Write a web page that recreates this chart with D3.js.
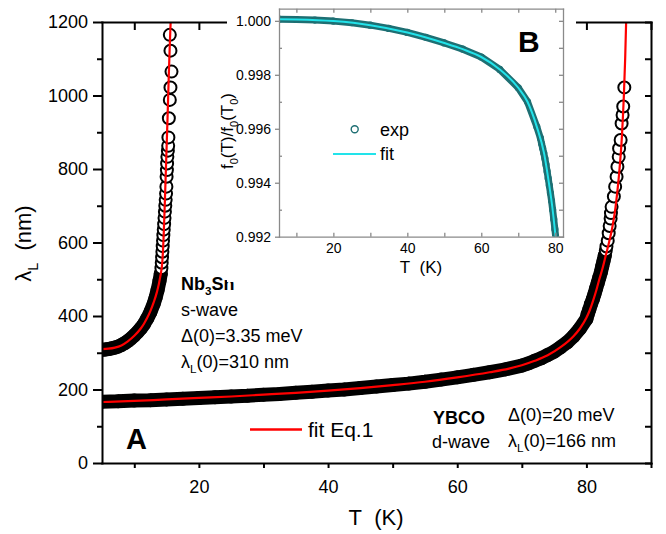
<!DOCTYPE html>
<html><head><meta charset="utf-8">
<script src="https://cdn.jsdelivr.net/npm/d3@7"></script>
<style>
body{margin:0;background:#fff}
svg{display:block}
text{font-family:"Liberation Sans",Arial,Helvetica,sans-serif}
</style>
</head><body>
<svg id="c" width="666" height="534"></svg>
<script>
// ---------------- DATA ----------------
// YBCO experimental lambda_L (nm) vs T (K)
const ybcoT = [5,7.5,10,12.5,15,17.5,20,22.5,25,27.5,30,32.5,35,37.5,40,42.5,45,47.5,50,52.5,55,57.5,60,62.5,65,67.5,70,71,72,73,74,75,76,77,78,79,80,
  80.2,80.45,80.7,81.0,81.25,81.5,81.75,82.0,82.25,82.45,82.65,82.85,83.0,83.1,83.3,83.45,83.6,83.75,83.8,83.9,84.25,84.45,84.67,84.8,85.0,85.06,85.3,85.45,85.6,85.7,85.87];
const ybcoL = [167,168,170,171,173,175,177,179,181,183,186,188,191,194,197,200,204,208,212,216,221,227,233,240,247,255,265,271,278,285,294,303,315,328,345,366,392,
  405,418,432,446,460,475,490,505,520,535,550,565,578,589,605,625,645,665,680,697,725,752,779,806,833,856,879,924,947,970,1022];
// YBCO fit (Eq.1)
const ybcoFitT = [5,10,15,20,25,30,35,40,45,50,55,60,65,68,70,72,74,76,78,79,80,80.5,81,81.5,82,82.5,83,83.5,84,84.5,85,85.5,85.8,86.0,86.15];
const ybcoFitL = [166,169,173,177,181,186,191,197,204,212,221,233,247,257,266,278,293,315,345,366,395,415,440,468,500,530,565,600,640,695,775,890,1000,1100,1200];
// Nb3Sn experimental
const nbT = [5,5.5,6,6.5,7,7.5,8,8.5,9,9.5,10,10.5,11,11.5,12,12.5,13,13.3,13.6,13.9,14.1,
  14.2,14.25,14.3,14.35,14.4,14.45,14.5,14.56,14.62,14.68,14.74,14.8,14.86,14.92,14.97,15.0,15.05,15.08,15.12,15.2,15.25,15.28,15.35,15.5,15.6,15.76,15.6,15.5];
const nbL = [308,309,310,312,314,317,321,326,332,339,347,356,366,378,393,411,433,450,470,495,515,
  530,545,560,575,590,605,620,635,650,667,684,700,716,733,752,779,797,815,833,850,863,886,938,988,1022,1065,1122,1165];
// Nb3Sn fit
const nbFitT = [5,6,7,8,9,10,11,11.5,12,12.5,13,13.5,14,14.35,14.55,14.75,14.95,15.15,15.35,15.5,15.63];
const nbFitL = [310,311,314,320,331,346,366,379,395,414,437,465,505,550,620,720,830,940,1060,1140,1200];
// Inset B: f0(T)/f0(T0)
const insT = [5.3,10,15,20,25,30,35,40,45,50,55,60,65,70,72.5,75,76,
  76.3,76.6,76.9,77.2,77.5,77.8,78.1,78.4,78.7,79.0,79.3,79.6,79.9,80.2];
const insF = [1.00006,1.00005,1.00003,0.99999,0.99993,0.99984,0.99972,0.99957,0.99939,0.99918,0.99895,0.99866,0.99820,0.99752,0.99700,0.99608,0.99565,
  0.99545,0.99528,0.99510,0.99490,0.99467,0.99442,0.99416,0.99390,0.99362,0.99333,0.99300,0.99265,0.99228,0.99190];
const insFitT = [5.3,10,20,30,40,50,55,60,65,70,72.5,75,77,78.3,79.2,80,80.4];
const insFitF = [1.00006,1.00005,0.99999,0.99984,0.99957,0.99918,0.99895,0.99866,0.99820,0.99752,0.99700,0.99608,0.99508,0.99398,0.99311,0.99212,0.99160];
// Tick labels
const xMajor = [20,40,60,80];
const xTicks = [10,20,30,40,50,60,70,80,90];
const yMajor = [0,200,400,600,800,1000,1200];
const yMinor = [100,300,500,700,900,1100];
const yAll = [0,100,200,300,400,500,600,700,800,900,1000,1100,1200];
const insXMajor = [20,40,60,80];
const insXTicks = [10,20,30,40,50,60,70,80];
const insYMajor = [0.992,0.994,0.996,0.998,1.000];
const insYMinor = [0.993,0.995,0.997,0.999];

// ---------------- DRAWING ----------------
const svg = d3.select('#c');
const FONT = '"Liberation Sans",Arial,sans-serif';
const x = d3.scaleLinear().domain([5,90]).range([102,651]);
const y = d3.scaleLinear().domain([0,1200]).range([463,22]);

function rich(parent, segs, fs, opts){
  opts = opts||{};
  const t = parent.append('text').attr('x',opts.x||0).attr('y',opts.y||0).attr('font-size',fs).attr('fill',opts.fill||'#000');
  if(opts.anchor) t.attr('text-anchor',opts.anchor);
  if(opts.weight) t.attr('font-weight',opts.weight);
  if(opts.transform) t.attr('transform',opts.transform);
  let inSub=false; const sh=fs*0.3;
  segs.forEach(([s,isSub])=>{
    const ts=t.append('tspan').text(s);
    if(isSub){ ts.attr('font-size',fs*0.65); if(!inSub){ts.attr('dy',sh); inSub=true;} }
    else if(inSub){ ts.attr('dy',-sh); inSub=false; }
  });
  return t;
}
function styleAx(g,col,w){
  g.selectAll('path.domain').attr('stroke',col).attr('stroke-width',w).attr('stroke-linecap','square');
  g.selectAll('.tick line').attr('stroke',col).attr('stroke-width',w);
  g.selectAll('text').attr('fill','#000').attr('font-family',FONT);
}

// clip for main plot
const defs = svg.append('defs');
defs.append('clipPath').attr('id','mainClip').append('rect').attr('x',102).attr('y',22).attr('width',549).attr('height',441);

// main data
const dataG = svg.append('g').attr('clip-path','url(#mainClip)');
function drawSeries(T,L,bandMax){
  const pts = T.map((t,i)=>({t,l:L[i]}));
  const band = pts.filter(p=>p.l<=bandMax);
  dataG.append('path').datum(band)
    .attr('d',d3.line().x(p=>x(p.t)).y(p=>y(p.l)))
    .attr('fill','none').attr('stroke','#000').attr('stroke-width',14)
    .attr('stroke-linecap','round').attr('stroke-linejoin','round');
  dataG.append('g').selectAll('circle').data(pts).join('circle')
    .attr('cx',p=>x(p.t)).attr('cy',p=>y(p.l)).attr('r',6)
    .attr('fill',p=>p.l<=bandMax?'none':'#fff').attr('stroke','#000').attr('stroke-width',2);
}
drawSeries(ybcoT,ybcoL,570);
drawSeries(nbT,nbL,520);
const fitLine = d3.line().x(p=>x(p[0])).y(p=>y(p[1])).curve(d3.curveMonotoneX);
dataG.append('path').datum(ybcoFitT.map((t,i)=>[t,ybcoFitL[i]])).attr('d',fitLine)
  .attr('fill','none').attr('stroke','#ff0000').attr('stroke-width',2.2);
dataG.append('path').datum(nbFitT.map((t,i)=>[t,nbFitL[i]])).attr('d',fitLine)
  .attr('fill','none').attr('stroke','#ff0000').attr('stroke-width',2.2);

// main axes
const gb = svg.append('g').attr('transform','translate(0,463)')
  .call(d3.axisBottom(x).tickValues(xTicks).tickSize(5).tickSizeOuter(0).tickFormat(d=>xMajor.includes(d)?d:''));
gb.selectAll('text').attr('font-size',18).attr('y',17);
styleAx(gb,'#000',2);
const gl = svg.append('g').attr('transform','translate(102,0)')
  .call(d3.axisLeft(y).tickValues(yMajor).tickSize(9).tickPadding(5).tickSizeOuter(0).tickFormat(d3.format('d')));
gl.selectAll('text').attr('font-size',18);
styleAx(gl,'#000',2);
const glm = svg.append('g').attr('transform','translate(102,0)')
  .call(d3.axisLeft(y).tickValues(yMinor).tickSize(5).tickFormat(''));
glm.select('path.domain').remove(); styleAx(glm,'#000',2);
const gr = svg.append('g').attr('transform','translate(651,0)')
  .call(d3.axisRight(y).tickValues(yAll).tickSize(-6).tickSizeOuter(0).tickFormat(''));
styleAx(gr,'#000',2);
const gt = svg.append('g').attr('transform','translate(0,22)')
  .call(d3.axisTop(x).tickValues(xTicks).tickSize(-8).tickSizeOuter(0).tickFormat(''));
styleAx(gt,'#000',2);

// axis titles
svg.append('text').attr('x',376).attr('y',525).attr('text-anchor','middle').attr('font-size',22).text('T\u00a0\u00a0(K)');
rich(svg,[['λ',false],['L',true],['\u00a0\u00a0(nm)',false]],22,{anchor:'middle',transform:'translate(31,243.5) rotate(-90)'});

// annotations
svg.append('text').attr('x',126).attr('y',449).attr('font-size',29).attr('font-weight','bold').text('A');
rich(svg,[['Nb',false],['3',true],['Sn',false]],18,{x:181,y:290,weight:'bold'});
svg.append('text').attr('x',181).attr('y',316).attr('font-size',18).text('s-wave');
svg.append('text').attr('x',181).attr('y',342).attr('font-size',18).text('Δ(0)=3.35 meV');
rich(svg,[['λ',false],['L',true],['(0)=310 nm',false]],18,{x:181,y:368});
svg.append('text').attr('x',433).attr('y',424).attr('font-size',18).attr('font-weight','bold').text('YBCO');
svg.append('text').attr('x',432).attr('y',448).attr('font-size',18).text('d-wave');
svg.append('text').attr('x',508).attr('y',421).attr('font-size',18).text('Δ(0)=20 meV');
rich(svg,[['λ',false],['L',true],['(0)=166 nm',false]],18,{x:508,y:447});
// legend
svg.append('line').attr('x1',250).attr('x2',302).attr('y1',429.5).attr('y2',429.5).attr('stroke','#ff0000').attr('stroke-width',2.5);
svg.append('text').attr('x',308).attr('y',437).attr('font-size',21).text('fit Eq.1');

// ---------------- INSET ----------------
svg.append('rect').attr('x',227).attr('y',0).attr('width',349).attr('height',282).attr('fill','#fff');
const xi = d3.scaleLinear().domain([5.3,82.1]).range([279,563]);
const yi = d3.scaleLinear().domain([0.992,1.00045]).range([236.7,8.7]);
const TEAL = '#1e6f73', CYAN = '#22e3ea', GRAY='#8a8a8a';
defs.append('clipPath').attr('id','insClip').append('rect').attr('x',279).attr('y',8.7).attr('width',284).attr('height',228);
const ig = svg.append('g').attr('clip-path','url(#insClip)');
const ipts = insT.map((t,i)=>({t,f:insF[i]}));
ig.append('path').datum(ipts)
  .attr('d',d3.line().x(p=>xi(p.t)).y(p=>yi(p.f)))
  .attr('fill','none').attr('stroke',TEAL).attr('stroke-width',7).attr('stroke-linecap','round').attr('stroke-linejoin','round');
ig.append('g').selectAll('circle').data(ipts).join('circle')
  .attr('cx',p=>xi(p.t)).attr('cy',p=>yi(p.f)).attr('r',3)
  .attr('fill','none').attr('stroke',TEAL).attr('stroke-width',1.2);
ig.append('path').datum(insFitT.map((t,i)=>[t,insFitF[i]]))
  .attr('d',d3.line().x(p=>xi(p[0])).y(p=>yi(p[1])).curve(d3.curveMonotoneX))
  .attr('fill','none').attr('stroke',CYAN).attr('stroke-width',2);

// inset axes
const ib = svg.append('g').attr('transform','translate(0,236.7)')
  .call(d3.axisBottom(xi).tickValues(insXTicks).tickSize(-4).tickSizeOuter(0).tickFormat(d=>insXMajor.includes(d)?d:''));
ib.selectAll('text').attr('font-size',14).attr('y',6);
styleAx(ib,GRAY,1.3);
const il = svg.append('g').attr('transform','translate(279,0)')
  .call(d3.axisLeft(yi).tickValues(insYMajor).tickSize(4).tickPadding(4).tickSizeOuter(0).tickFormat(d3.format('.3f')));
il.selectAll('text').attr('font-size',14);
styleAx(il,GRAY,1.3);
const ilm = svg.append('g').attr('transform','translate(279,0)')
  .call(d3.axisLeft(yi).tickValues(insYMinor).tickSize(-3).tickFormat(''));
ilm.select('path.domain').remove(); styleAx(ilm,GRAY,1.3);
const ir = svg.append('g').attr('transform','translate(563,0)')
  .call(d3.axisRight(yi).tickValues(insYMajor.concat(insYMinor)).tickSize(-4).tickSizeOuter(0).tickFormat(''));
styleAx(ir,GRAY,1.3);
const it = svg.append('g').attr('transform','translate(0,8.7)')
  .call(d3.axisTop(xi).tickValues(insXTicks).tickSize(-4).tickSizeOuter(0).tickFormat(''));
styleAx(it,GRAY,1.3);

svg.append('text').attr('x',421).attr('y',273).attr('text-anchor','middle').attr('font-size',17).text('T\u00a0\u00a0(K)');
rich(svg,[['f',false],['0',true],['(T)/f',false],['0',true],['(T',false],['0',true],[')',false]],17,{anchor:'middle',transform:'translate(233,131) rotate(-90)'});
svg.append('text').attr('x',518).attr('y',51.5).attr('font-size',30).attr('font-weight','bold').text('B');
// inset legend
svg.append('circle').attr('cx',354.7).attr('cy',129.3).attr('r',3.5).attr('fill','#fff').attr('stroke',TEAL).attr('stroke-width',1.4);
svg.append('text').attr('x',380).attr('y',136).attr('font-size',18).text('exp');
svg.append('line').attr('x1',333).attr('x2',376).attr('y1',154).attr('y2',154).attr('stroke',CYAN).attr('stroke-width',2);
svg.append('text').attr('x',380).attr('y',160).attr('font-size',18).text('fit');
</script>
</body></html>
